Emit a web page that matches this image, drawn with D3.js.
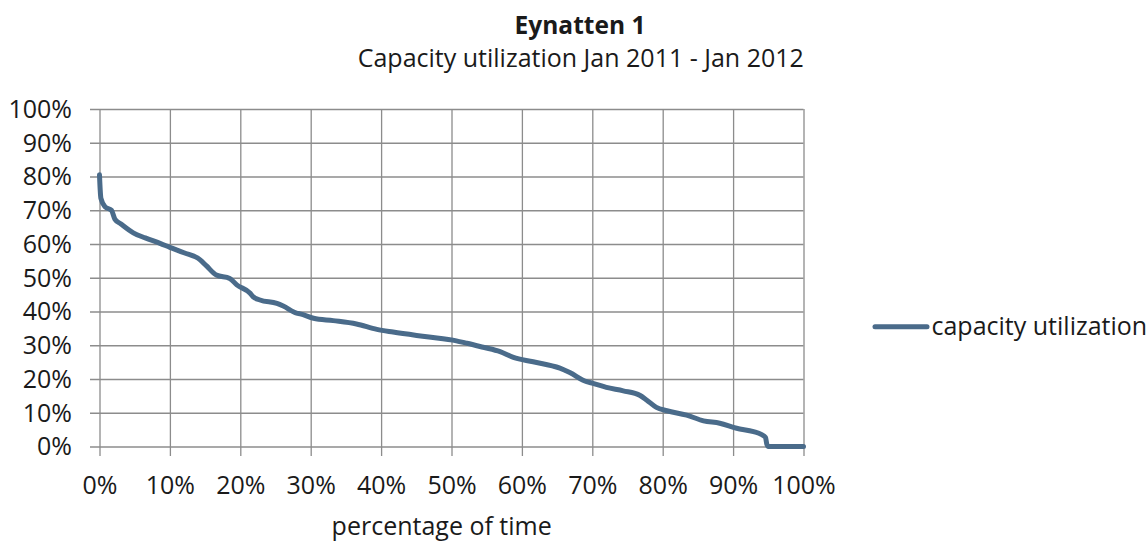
<!DOCTYPE html>
<html>
<head>
<meta charset="utf-8">
<script src="https://cdn.jsdelivr.net/npm/d3@7/dist/d3.min.js"></script>
<style>
  html, body { margin: 0; padding: 0; background: #fff; }
  svg { display: block; font-family: "Open Sans", "Noto Sans", sans-serif; }
</style>
</head>
<body>
<svg id="chart" width="1146" height="542"></svg>
<script>
// Share of time (%) at which the duration curve passes each reading
const pctTime = [0, 0.1, 0.2, 0.8, 1.7, 2.2, 3.0, 4.8, 6.5, 8.6, 10.0, 12.0, 14.3, 15.2, 16.6,
  18.5, 19.5, 21.4, 21.8, 22.8, 25.2, 26.1, 28.0, 28.5, 30.4, 33.2, 36.5, 39.4, 41.7, 46.5,
  50.7, 52.2, 54.5, 56.9, 58.8, 61.6, 65.4, 66.8, 69.2, 70.1, 72.0, 74.4, 76.8, 77.7, 79.1,
  80.6, 83.4, 85.8, 88.1, 90.5, 92.9, 94.0, 94.6, 94.8, 95.0, 97.0, 100];
// Capacity utilization (%)
const utilization = [80.5, 76.0, 73.5, 71.0, 70.0, 67.3, 66.0, 63.3, 61.8, 60.2, 59.0, 57.4, 55.3, 53.5, 50.8,
  49.8, 47.9, 45.4, 44.4, 43.4, 42.4, 41.6, 39.5, 39.3, 38.0, 37.3, 36.3, 34.7, 33.9, 32.5,
  31.3, 30.6, 29.4, 28.1, 26.4, 25.1, 23.2, 21.9, 19.2, 18.7, 17.5, 16.5, 15.1, 13.8, 11.6,
  10.6, 9.3, 7.6, 6.9, 5.4, 4.4, 3.6, 2.7, 0.6, 0, 0, 0];
const xTicks = [0, 10, 20, 30, 40, 50, 60, 70, 80, 90, 100];
const yTicks = [0, 10, 20, 30, 40, 50, 60, 70, 80, 90, 100];
const titleText = "Eynatten 1";
const subtitleText = "Capacity utilization Jan 2011 - Jan 2012";
const xAxisTitle = "percentage of time";
const seriesName = "capacity utilization";

const svg = d3.select("#chart");
const lineColor = "#4a6b8a";
const gridColor = "#8c8c8c";
const textColor = "#1a1a1a";
const fs = 25;

const x = d3.scaleLinear().domain([0, 100]).range([99.5, 803.5]);
const y = d3.scaleLinear().domain([0, 100]).range([446.5, 109]);
const fmt = d => d + "%";

// horizontal grid + y axis ticks
const yAxis = d3.axisLeft(y).tickValues(yTicks).tickFormat(fmt).tickSize(0);
const gy = svg.append("g").attr("transform", `translate(${x(100)},0)`).call(yAxis);
gy.select(".domain").remove();
gy.selectAll(".tick line").attr("stroke", gridColor).attr("stroke-width", 1.3)
  .attr("x1", 0).attr("x2", -(x(100) - x(0)) - 9.5);
gy.selectAll(".tick text").remove();
const gyl = svg.append("g");
gyl.selectAll("text").data(yTicks).join("text")
  .attr("x", 72).attr("y", d => y(d)).attr("dy", "0.35em")
  .attr("text-anchor", "end").attr("font-size", fs).attr("fill", textColor)
  .text(fmt);

// vertical grid + x axis ticks
const xAxis = d3.axisBottom(x).tickValues(xTicks).tickFormat(fmt).tickSize(0);
const gx = svg.append("g").attr("transform", `translate(0,${y(0)})`).call(xAxis);
gx.select(".domain").remove();
gx.selectAll(".tick line").attr("stroke", gridColor).attr("stroke-width", 1.3)
  .attr("y1", 9.5).attr("y2", y(100) - y(0));
gx.selectAll(".tick text").attr("y", 47.5).attr("dy", 0)
  .attr("font-size", fs).attr("fill", textColor)
  .attr("font-family", "'Open Sans', 'Noto Sans', sans-serif");

// data line
const data = pctTime.map((p, i) => ({ p, v: utilization[i] }));
const line = d3.line().x(d => x(d.p)).y(d => y(d.v)).curve(d3.curveMonotoneX);
svg.append("path").datum(data)
  .attr("d", line).attr("fill", "none").attr("stroke", lineColor)
  .attr("stroke-width", 5).attr("stroke-linejoin", "round").attr("stroke-linecap", "round");

// titles
svg.append("text").attr("x", 580).attr("y", 33.5).attr("text-anchor", "middle")
  .attr("font-size", 24.5).attr("font-weight", "bold").attr("fill", textColor).text(titleText);
svg.append("text").attr("x", 580.8).attr("y", 67).attr("text-anchor", "middle")
  .attr("font-size", fs).attr("fill", textColor).text(subtitleText);
svg.append("text").attr("x", 441.7).attr("y", 535).attr("text-anchor", "middle")
  .attr("font-size", fs).attr("fill", textColor).text(xAxisTitle);

// legend
const lg = svg.append("g");
lg.append("line").attr("x1", 875).attr("x2", 927).attr("y1", 326.7).attr("y2", 326.7)
  .attr("stroke", lineColor).attr("stroke-width", 5).attr("stroke-linecap", "round");
lg.append("text").attr("x", 931.5).attr("y", 326.7).attr("dy", "0.35em")
  .attr("font-size", fs).attr("fill", textColor).text(seriesName);
</script>
</body>
</html>
